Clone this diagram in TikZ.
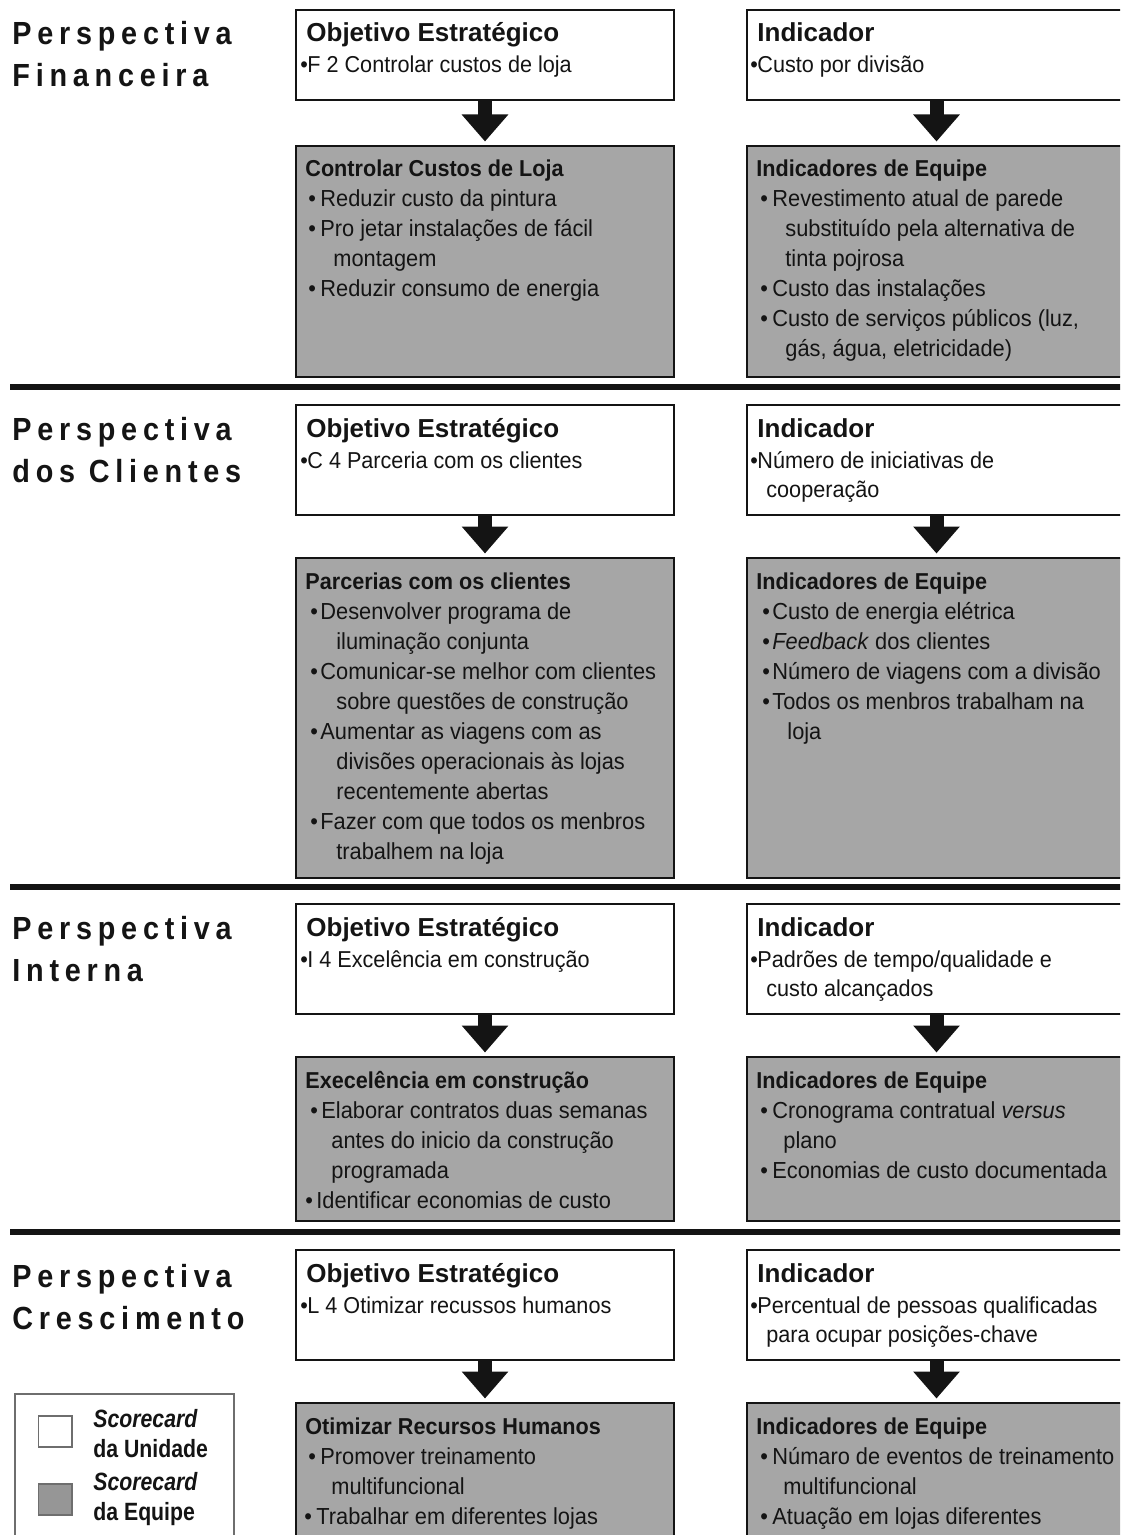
\documentclass[tikz,border=0pt]{standalone}
\usepackage{fontspec}
\setmainfont{Liberation Sans}
\newfontfamily\narrowfont{Liberation Sans}[FakeStretch=0.94]
\newfontfamily\legendfont{Liberation Sans}[FakeStretch=0.85]
\newfontfamily\spacedfont{Liberation Sans}[FakeStretch=0.9, LetterSpace=18]
\usetikzlibrary{arrows.meta}

\definecolor{ink}{RGB}{20,20,20}
\definecolor{boxgray}{RGB}{166,166,166}
\definecolor{swatchgray}{RGB}{150,150,150}
\definecolor{legendline}{RGB}{110,110,110}

% one drawing unit = 0.5pt
\newlength\pxu \setlength\pxu{0.5pt}
% bullet line: bullet offset, text offset, text
\newcommand\bitem[3]{\makebox[#2\pxu][l]{\hspace*{#1\pxu}\textbullet}#3}
% continuation line: indent, text
\newcommand\cont[2]{\hspace*{#1\pxu}#2}
\newcommand\lines[1]{\parbox[t]{260pt}{#1}}

\tikzset{
  unitbox/.style={draw=ink, line width=1pt, fill=white, anchor=north west, inner sep=0pt},
  teambox/.style={draw=ink, line width=1pt, fill=boxgray, anchor=north west, inner sep=0pt},
  unithead/.style={anchor=base west, inner sep=0pt, text=ink, font=\fontsize{13}{15}\selectfont\bfseries},
  unitbody/.style={anchor=base west, inner sep=0pt, text=ink, font=\narrowfont\fontsize{11.5}{14.75}\selectfont},
  teamhead/.style={anchor=base west, inner sep=0pt, text=ink, font=\narrowfont\fontsize{11.5}{15}\selectfont\bfseries},
  teambody/.style={anchor=base west, inner sep=0pt, text=ink, font=\narrowfont\fontsize{11.6}{15}\selectfont},
  persp/.style={anchor=base west, inner sep=0pt, text=ink, font=\spacedfont\fontsize{16}{21}\selectfont\bfseries},
  flow/.style={draw=ink, line width=7pt, -{Triangle[width=22.5pt,length=13.5pt]}, shorten >=1.75pt},
  divider/.style={draw=ink, line width=3pt},
  legendbox/.style={draw=legendline, line width=0.75pt, fill=white, anchor=north west, inner sep=0pt},
  swatch/.style={draw=legendline, line width=0.75pt, anchor=north west, inner sep=0pt,
                 minimum width=16.75pt, minimum height=15.5pt},
  legendtxt/.style={anchor=base west, inner sep=0pt, text=ink, font=\legendfont\fontsize{12.5}{15}\selectfont\bfseries},
}

\begin{document}
\begin{tikzpicture}[x=0.5pt, y=-0.5pt]
\useasboundingbox (0,0) rectangle (1120,1535);
\begin{scope}
\clip (0,0) rectangle (1120,1535);

% ---------------- Perspectiva Financeira ----------------
\node[persp] (pf) at (12,45) {\lines{Perspectiva\\Financeira}};

\node[unitbox, minimum width=189pt, minimum height=45pt] (f1) at (295,9) {};
\node[unithead] (f1h) at (306,42) {Objetivo Estratégico};
\node[unitbody] (f1b) at (295,73) {\lines{\bitem{5}{12}{F 2 Controlar custos de loja}}};

\node[unitbox, minimum width=189.5pt, minimum height=45pt] (f3) at (746,9) {};
\node[unithead] (f3h) at (757,42) {Indicador};
\node[unitbody] (f3b) at (746,73) {\lines{\bitem{4}{11}{Custo por divisão}}};

\node[teambox, minimum width=189pt, minimum height=115.5pt] (f2) at (295,145) {};
\node[teamhead] (f2h) at (305,177) {Controlar Custos de Loja};
\node[teambody] (f2b) at (295,207) {\lines{%
  \bitem{13}{25}{Reduzir custo da pintura}\\
  \bitem{13}{25}{Pro jetar instalações de fácil}\\
  \cont{38}{montagem}\\
  \bitem{13}{25}{Reduzir consumo de energia}}};

\node[teambox, minimum width=189.5pt, minimum height=115.5pt] (f4) at (746,145) {};
\node[teamhead] (f4h) at (756,177) {Indicadores de Equipe};
\node[teambody] (f4b) at (746,207) {\lines{%
  \bitem{14}{26}{Revestimento atual de parede}\\
  \cont{39}{substituído pela alternativa de}\\
  \cont{39}{tinta pojrosa}\\
  \bitem{14}{26}{Custo das instalações}\\
  \bitem{14}{26}{Custo de serviços públicos (luz,}\\
  \cont{39}{gás, água, eletricidade)}}};

\draw[flow] (f1.south) -- (f2.north);
\draw[flow] (f3.south) -- (f4.north);
\draw[divider] (10,386.5) -- (1125,386.5);

% ---------------- Perspectiva dos Clientes ----------------
\node[persp] (pc) at (12,440) {\lines{Perspectiva\\dos Clientes}};

\node[unitbox, minimum width=189pt, minimum height=55pt] (c1) at (295,404) {};
\node[unithead] (c1h) at (306,437) {Objetivo Estratégico};
\node[unitbody] (c1b) at (295,468) {\lines{\bitem{5}{12}{C 4 Parceria com os clientes}}};

\node[unitbox, minimum width=189.5pt, minimum height=55pt] (c3) at (746,404) {};
\node[unithead] (c3h) at (757,437) {Indicador};
\node[unitbody] (c3b) at (746,468) {\lines{%
  \bitem{4}{11}{Número de iniciativas de}\\
  \cont{20}{cooperação}}};

\node[teambox, minimum width=189pt, minimum height=160pt] (c2) at (295,557) {};
\node[teamhead] (c2h) at (305,589) {Parcerias com os clientes};
\node[teambody] (c2b) at (295,619) {\lines{%
  \bitem{15}{25}{Desenvolver programa de}\\
  \cont{41}{iluminação conjunta}\\
  \bitem{15}{25}{Comunicar-se melhor com clientes}\\
  \cont{41}{sobre questões de construção}\\
  \bitem{15}{25}{Aumentar as viagens com as}\\
  \cont{41}{divisões operacionais às lojas}\\
  \cont{41}{recentemente abertas}\\
  \bitem{15}{25}{Fazer com que todos os menbros}\\
  \cont{41}{trabalhem na loja}}};

\node[teambox, minimum width=189.5pt, minimum height=160pt] (c4) at (746,557) {};
\node[teamhead] (c4h) at (756,589) {Indicadores de Equipe};
\node[teambody] (c4b) at (746,619) {\lines{%
  \bitem{16}{26}{Custo de energia elétrica}\\
  \bitem{16}{26}{\textit{Feedback} dos clientes}\\
  \bitem{16}{26}{Número de viagens com a divisão}\\
  \bitem{16}{26}{Todos os menbros trabalham na}\\
  \cont{41}{loja}}};

\draw[flow] (c1.south) -- (c2.north);
\draw[flow] (c3.south) -- (c4.north);
\draw[divider] (10,886.5) -- (1125,886.5);

% ---------------- Perspectiva Interna ----------------
\node[persp] (pi) at (12,939) {\lines{Perspectiva\\Interna}};

\node[unitbox, minimum width=189pt, minimum height=55pt] (i1) at (295,903) {};
\node[unithead] (i1h) at (306,936) {Objetivo Estratégico};
\node[unitbody] (i1b) at (295,967) {\lines{\bitem{5}{12}{I 4 Excelência em construção}}};

\node[unitbox, minimum width=189.5pt, minimum height=55pt] (i3) at (746,903) {};
\node[unithead] (i3h) at (757,936) {Indicador};
\node[unitbody] (i3b) at (746,967) {\lines{%
  \bitem{4}{11}{Padrões de tempo/qualidade e}\\
  \cont{20}{custo alcançados}}};

\node[teambox, minimum width=189pt, minimum height=82pt] (i2) at (295,1056) {};
\node[teamhead] (i2h) at (305,1088) {Execelência em construção};
\node[teambody] (i2b) at (295,1118) {\lines{%
  \bitem{15}{26}{Elaborar contratos duas semanas}\\
  \cont{36}{antes do inicio da construção}\\
  \cont{36}{programada}\\
  \bitem{10}{21}{Identificar economias de custo}}};

\node[teambox, minimum width=189.5pt, minimum height=82pt] (i4) at (746,1056) {};
\node[teamhead] (i4h) at (756,1088) {Indicadores de Equipe};
\node[teambody] (i4b) at (746,1118) {\lines{%
  \bitem{14}{26}{Cronograma contratual \textit{versus}}\\
  \cont{37}{plano}\\
  \bitem{14}{26}{Economias de custo documentada}}};

\draw[flow] (i1.south) -- (i2.north);
\draw[flow] (i3.south) -- (i4.north);
\draw[divider] (10,1231.5) -- (1125,1231.5);

% ---------------- Perspectiva Crescimento ----------------
\node[persp] (pg) at (12,1287) {\lines{Perspectiva\\Crescimento}};

\node[unitbox, minimum width=189pt, minimum height=55pt] (g1) at (295,1249) {};
\node[unithead] (g1h) at (306,1282) {Objetivo Estratégico};
\node[unitbody] (g1b) at (295,1313) {\lines{\bitem{5}{12}{L 4 Otimizar recussos humanos}}};

\node[unitbox, minimum width=189.5pt, minimum height=55pt] (g3) at (746,1249) {};
\node[unithead] (g3h) at (757,1282) {Indicador};
\node[unitbody] (g3b) at (746,1313) {\lines{%
  \bitem{4}{11}{Percentual de pessoas qualificadas}\\
  \cont{20}{para ocupar posições-chave}}};

\node[teambox, minimum width=189pt, minimum height=75pt] (g2) at (295,1402) {};
\node[teamhead] (g2h) at (305,1434) {Otimizar Recursos Humanos};
\node[teambody] (g2b) at (295,1464) {\lines{%
  \bitem{13}{25}{Promover treinamento}\\
  \cont{36}{multifuncional}\\
  \bitem{9}{21}{Trabalhar em diferentes lojas}}};

\node[teambox, minimum width=189.5pt, minimum height=75pt] (g4) at (746,1402) {};
\node[teamhead] (g4h) at (756,1434) {Indicadores de Equipe};
\node[teambody] (g4b) at (746,1464) {\lines{%
  \bitem{14}{26}{Númaro de eventos de treinamento}\\
  \cont{37}{multifuncional}\\
  \bitem{14}{26}{Atuação em lojas diferentes}}};

\draw[flow] (g1.south) -- (g2.north);
\draw[flow] (g3.south) -- (g4.north);

% ---------------- legend ----------------
\node[legendbox, minimum width=109.5pt, minimum height=76pt] (leg) at (14,1393) {};
\node[swatch, fill=white] (sw1) at (37.5,1415) {};
\node[swatch, fill=swatchgray] (sw2) at (37.5,1483) {};
\node[legendtxt] (lt1) at (93,1427) {\lines{\textit{Scorecard}\\da Unidade}};
\node[legendtxt] (lt2) at (93,1490) {\lines{\textit{Scorecard}\\da Equipe}};
\end{scope}
\end{tikzpicture}
\end{document}
